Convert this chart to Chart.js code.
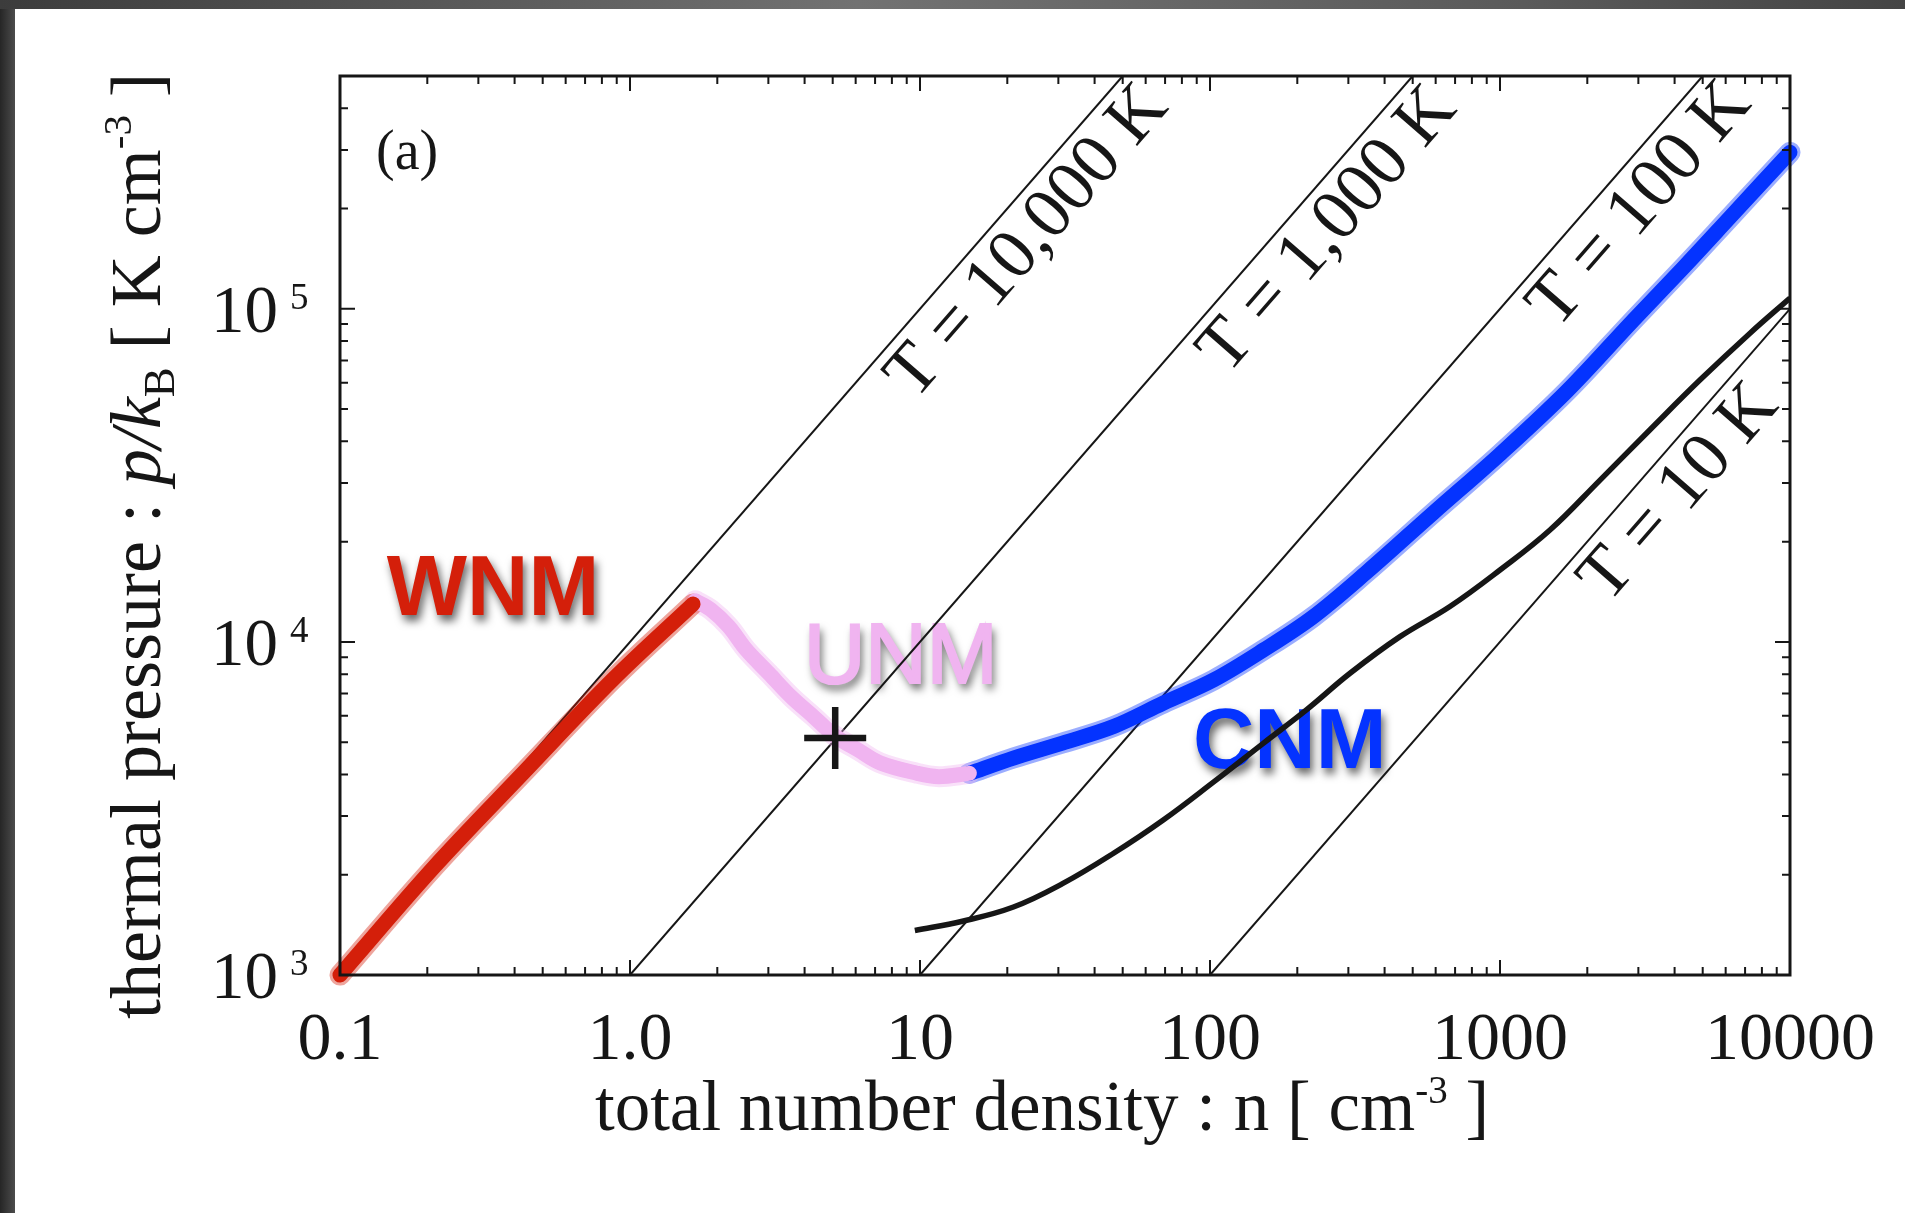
<!DOCTYPE html>
<html>
<head>
<meta charset="utf-8">
<script src="https://cdn.jsdelivr.net/npm/chart.js@4.4.1/dist/chart.umd.min.js"></script>
<style>
html, body { margin: 0; padding: 0; }
body { width: 1905px; height: 1213px; overflow: hidden; position: relative;
  background: linear-gradient(90deg, #262626 0px, #4c4c4c 15px, #4c4c4c 100%); }
.top-band { position: absolute; left: 0; top: 0; width: 1905px; height: 9px;
  background: linear-gradient(90deg, #3c3c3c, #727272 45%, #5a5a5a 80%, #444); }
.sheet { position: absolute; left: 15px; top: 9px; right: 0; bottom: 0; background: #fff; }
#wrap { position: absolute; left: 0; top: 0; width: 1905px; height: 1213px; }
</style>
</head>
<body>
<div class="top-band"></div>
<div class="sheet"></div>
<div id="wrap"><canvas id="myChart" width="1905" height="1213"></canvas></div>
<script>
// density n [cm^-3] / pressure p/kB [K cm^-3] along each phase
const wnmDensity  = [0.1, 0.211, 0.428, 0.87, 1.65];
const wnmPressure = [1000, 2110, 4040, 7690, 13000];
const unmDensity  = [1.68, 1.9, 2.19, 2.52, 3.01, 3.59, 4.29, 5.12, 6.11, 7.3, 9.69, 11.6, 14.8];
const unmPressure = [13300, 12500, 11120, 9460, 8050, 6850, 5970, 5200, 4740, 4330, 4040, 3940, 4030];
const cnmDensity  = [14.8, 21, 31, 46.5, 69, 103, 153, 227, 347, 589, 1000, 1698, 2885, 4290, 6200, 10000];
const cnmPressure = [4030, 4480, 4970, 5570, 6550, 7690, 9460, 11900, 16200, 24400, 36600, 56500, 92500, 133000, 188000, 295000];

// solid black curve
const curveDensity  = [9.6, 14, 21, 31, 46.5, 69, 103, 153, 215, 304, 452, 672, 1000, 1487, 2213, 3290, 4900, 7280, 10000];
const curvePressure = [1360, 1450, 1600, 1880, 2320, 2920, 3800, 4970, 6250, 8050, 10370, 12770, 16440, 21670, 30610, 43360, 61200, 84500, 107700];

// isotherms p = nT, end points inside the frame
const isoTemps = ['T = 10,000 K', 'T = 1,000 K', 'T = 100 K', 'T = 10 K'];
const isoEnds = [
  [[0.1, 1000], [50, 500000]],
  [[1, 1000], [500, 500000]],
  [[10, 1000], [5000, 500000]],
  [[100, 1000], [10000, 100000]]
];
const isoLabelAt = [[18.8, 188000], [204, 204000], [2430, 243000], [3320, 33200]];

const crossPoint = [5.1, 5150];

const phaseNames = ['WNM', 'UNM', 'CNM'];
const phaseAt = [[0.145, 12050], [3.98, 7530], [87.3, 4190]];

const xTicks = [0.1, 1, 10, 100, 1000, 10000];
const xTickLabels = ['0.1', '1.0', '10', '100', '1000', '10000'];
const yTicks = [1000, 10000, 100000];
const yTickExp = ['3', '4', '5'];

const RED = '#d41f0a', PINK = '#f0b4f0', BLUE = '#0433ff', INK = '#161616';
const SERIF = '"Liberation Serif", "Times New Roman", serif';
const SANS = '"Liberation Sans", Arial, sans-serif';

function pts(xs, ys) { return xs.map((v, i) => ({ x: v, y: ys[i] })); }

function band(data, color, order) {
  return [
    { data: data, borderColor: color, borderWidth: 15, borderCapStyle: 'round', borderJoinStyle: 'round',
      tension: 0.35, pointRadius: 0, clip: 12, order: order },
    { data: data, borderColor: color + '66', borderWidth: 21, borderCapStyle: 'round', borderJoinStyle: 'round',
      tension: 0.35, pointRadius: 0, clip: 12, order: order + 1 }
  ];
}

// text made of runs with their own font and vertical shift
function drawRuns(c, runs, x, y) {
  let total = 0;
  runs.forEach(r => { c.font = r.f; r.w = c.measureText(r.t).width; total += r.w; });
  let cx = x - total / 2;
  runs.forEach(r => { c.font = r.f; c.fillText(r.t, cx, y + (r.dy || 0)); cx += r.w; });
}

const diagramPlugin = {
  id: 'diagram',
  beforeDatasetsDraw(chart) {
    const c = chart.ctx, xs = chart.scales.x, ys = chart.scales.y;
    c.save();
    c.textAlign = 'left';
    c.textBaseline = 'alphabetic';
    c.shadowColor = 'rgba(0,0,0,0.6)';
    c.shadowBlur = 9;
    c.shadowOffsetX = 3;
    c.shadowOffsetY = 6;
    const fonts = ['bold 85px ' + SANS, '85px ' + SANS, 'bold 85px ' + SANS];
    const colors = [RED, PINK, BLUE];
    phaseNames.forEach((name, i) => {
      const x = xs.getPixelForValue(phaseAt[i][0]), y = ys.getPixelForValue(phaseAt[i][1]);
      c.font = fonts[i];
      c.fillStyle = colors[i];
      c.fillText(name, x, y);
      if (i === 1) {
        // a little heavier than the regular face
        c.shadowColor = 'transparent';
        c.strokeStyle = colors[i];
        c.lineWidth = 2.2;
        c.strokeText(name, x, y);
        c.shadowColor = 'rgba(0,0,0,0.6)';
      }
    });
    c.restore();
  },
  afterDatasetsDraw(chart) {
    const c = chart.ctx, xs = chart.scales.x, ys = chart.scales.y;
    const a = chart.chartArea;
    c.save();

    // frame
    c.strokeStyle = INK;
    c.lineWidth = 3;
    c.strokeRect(a.left, a.top, a.right - a.left, a.bottom - a.top);

    // inward ticks on all four sides
    c.lineWidth = 2;
    c.beginPath();
    for (let d = 0.1; d <= 10000; d *= 10) {
      for (let m = 1; m <= 9; m++) {
        const v = d * m;
        if (v <= 0.1 || v >= 10000) continue;
        const px = xs.getPixelForValue(v), len = m === 1 ? 15 : 8;
        c.moveTo(px, a.bottom); c.lineTo(px, a.bottom - len);
        c.moveTo(px, a.top); c.lineTo(px, a.top + len);
      }
    }
    for (let d = 1000; d <= 100000; d *= 10) {
      for (let m = 1; m <= 9; m++) {
        const v = d * m;
        if (v <= 1000 || v >= 500000) continue;
        const py = ys.getPixelForValue(v), len = m === 1 ? 15 : 8;
        c.moveTo(a.left, py); c.lineTo(a.left + len, py);
        c.moveTo(a.right, py); c.lineTo(a.right - len, py);
      }
    }
    c.stroke();

    // isotherm labels, set along each line
    c.fillStyle = INK;
    c.font = '72px ' + SERIF;
    c.textAlign = 'center';
    c.textBaseline = 'middle';
    isoTemps.forEach((label, i) => {
      const e = isoEnds[i];
      const x1 = xs.getPixelForValue(e[0][0]), y1 = ys.getPixelForValue(e[0][1]);
      const x2 = xs.getPixelForValue(e[1][0]), y2 = ys.getPixelForValue(e[1][1]);
      const ang = Math.atan2(y2 - y1, x2 - x1);
      const px = xs.getPixelForValue(isoLabelAt[i][0]), py = ys.getPixelForValue(isoLabelAt[i][1]);
      c.save();
      c.translate(px - Math.sin(ang) * 38, py + Math.cos(ang) * 38);
      c.rotate(ang);
      c.fillText(label, 0, 0);
      c.restore();
    });

    // panel tag
    c.textAlign = 'left';
    c.textBaseline = 'alphabetic';
    c.font = '56px ' + SERIF;
    c.fillText('(a)', a.left + 36, a.top + 93);

    // x tick labels
    c.textAlign = 'center';
    c.font = '68px ' + SERIF;
    xTicks.forEach((v, i) => c.fillText(xTickLabels[i], xs.getPixelForValue(v), a.bottom + 84));

    // y tick labels: 10 with exponent
    yTicks.forEach((v, i) => {
      const py = ys.getPixelForValue(v);
      c.textAlign = 'right';
      c.font = '67px ' + SERIF;
      c.fillText('10', a.left - 62, py + 23);
      c.textAlign = 'left';
      c.font = '37px ' + SERIF;
      c.fillText(yTickExp[i], a.left - 50, py);
    });

    // axis titles
    c.textAlign = 'left';
    drawRuns(c, [
      { t: 'total number density : n [ cm', f: '71px ' + SERIF },
      { t: '-3', f: '39px ' + SERIF, dy: -27 },
      { t: ' ]', f: '71px ' + SERIF }
    ], 1042, a.bottom + 155);

    c.save();
    c.translate(160, 546);
    c.rotate(-Math.PI / 2);
    drawRuns(c, [
      { t: 'thermal pressure : ', f: '72px ' + SERIF },
      { t: 'p/k', f: 'italic 72px ' + SERIF },
      { t: 'B', f: '45px ' + SERIF, dy: 14 },
      { t: ' [ K cm', f: '72px ' + SERIF },
      { t: '-3', f: '41px ' + SERIF, dy: -29 },
      { t: ' ]', f: '72px ' + SERIF }
    ], 0, 0);
    c.restore();

    c.restore();
  }
};

const isoSets = isoEnds.map(e => ({
  data: pts([e[0][0], e[1][0]], [e[0][1], e[1][1]]),
  borderColor: INK, borderWidth: 2, pointRadius: 0, order: 20
}));

const ctx = document.getElementById('myChart').getContext('2d');
const myChart = new Chart(ctx, {
  type: 'line',
  data: {
    datasets: [
      { data: [{ x: crossPoint[0], y: crossPoint[1] }], showLine: false, pointStyle: 'cross',
        pointRadius: 31, pointBorderWidth: 6.5, pointBorderColor: INK, order: 0 },
      ...band(pts(wnmDensity, wnmPressure), RED, 2),
      ...band(pts(unmDensity, unmPressure), PINK, 2),
      ...band(pts(cnmDensity, cnmPressure), BLUE, 2),
      { data: pts(curveDensity, curvePressure), borderColor: INK, borderWidth: 5.5,
        tension: 0.4, pointRadius: 0, order: 10 },
      ...isoSets
    ]
  },
  options: {
    responsive: false,
    devicePixelRatio: 1,
    animation: false,
    layout: { padding: { left: 340, top: 76, right: 115, bottom: 238 } },
    plugins: { legend: { display: false }, tooltip: { enabled: false } },
    scales: {
      x: { type: 'logarithmic', min: 0.1, max: 10000, display: false },
      y: { type: 'logarithmic', min: 1000, max: 500000, display: false }
    }
  },
  plugins: [diagramPlugin]
});
</script>
</body>
</html>
